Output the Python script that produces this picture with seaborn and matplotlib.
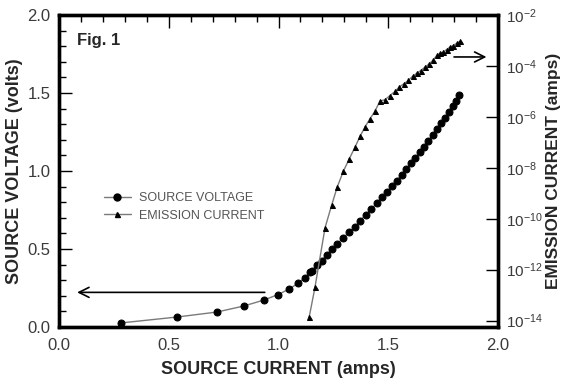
import numpy as np
import pandas as pd
import matplotlib
matplotlib.use("Agg")
import matplotlib.pyplot as plt
import seaborn as sns
from matplotlib.ticker import MultipleLocator, FixedLocator, FuncFormatter
from matplotlib.lines import Line2D

# ---------------- data ----------------
voltage_current = [0.282, 0.538, 0.720, 0.843, 0.934, 0.998, 1.050, 1.090, 1.121, 1.143,
                   1.153, 1.174, 1.196, 1.219, 1.242, 1.268, 1.295, 1.323, 1.349, 1.371,
                   1.397, 1.421, 1.447, 1.470, 1.493, 1.516, 1.538, 1.561, 1.581, 1.602,
                   1.622, 1.645, 1.663, 1.682, 1.702, 1.721, 1.740, 1.759, 1.777, 1.794,
                   1.809, 1.822]
source_voltage = [0.026, 0.064, 0.096, 0.135, 0.173, 0.208, 0.244, 0.282, 0.316, 0.351,
                  0.362, 0.397, 0.426, 0.462, 0.498, 0.534, 0.572, 0.609, 0.643, 0.681,
                  0.718, 0.754, 0.793, 0.831, 0.867, 0.902, 0.939, 0.974, 1.011, 1.049,
                  1.081, 1.124, 1.156, 1.192, 1.231, 1.267, 1.306, 1.342, 1.376, 1.417,
                  1.451, 1.487]

emission_source_current = [1.140, 1.166, 1.212, 1.242, 1.268, 1.295, 1.323, 1.349, 1.371, 1.394,
                           1.417, 1.440, 1.462, 1.485, 1.508, 1.531, 1.550, 1.572, 1.591, 1.611,
                           1.630, 1.648, 1.667, 1.686, 1.705, 1.721, 1.736, 1.751, 1.766, 1.781,
                           1.796, 1.812, 1.827]
emission_current = [1.4e-14, 2.0e-13, 4.4e-11, 3.4e-10, 1.8e-9, 7.2e-9, 2.3e-8, 6.6e-8, 1.7e-7, 4.0e-7,
                    8.5e-7, 1.7e-6, 4.2e-6, 4.7e-6, 6.9e-6, 1.0e-5, 1.5e-5, 2.0e-5, 2.7e-5, 3.9e-5,
                    5.2e-5, 6.6e-5, 8.9e-5, 1.2e-4, 1.7e-4, 2.6e-4, 3.2e-4, 3.5e-4, 4.4e-4, 5.5e-4,
                    6.3e-4, 7.8e-4, 9.3e-4]

x_ticks = [0.0, 0.5, 1.0, 1.5, 2.0]
left_ticks = [0.0, 0.5, 1.0, 1.5, 2.0]
right_tick_exponents = [-2, -4, -6, -8, -10, -12, -14]

series_names = ["SOURCE VOLTAGE", "EMISSION CURRENT"]

# ---------------- styling ----------------
sns.set_style("white")
plt.rcParams["font.family"] = ["Liberation Sans", "DejaVu Sans"]
plt.rcParams["mathtext.fontset"] = "custom"
plt.rcParams["mathtext.rm"] = "Liberation Sans"
plt.rcParams["mathtext.it"] = "Liberation Sans"
plt.rcParams["mathtext.bf"] = "Liberation Sans:bold"

fig = plt.figure(figsize=(5.65, 3.83), dpi=100)
ax = fig.add_axes([59 / 565, 1 - 327 / 383, (498 - 59) / 565, (327 - 15) / 383])
ax2 = ax.twinx()

df_v = pd.DataFrame({"I": voltage_current, "V": source_voltage})
df_e = pd.DataFrame({"I": emission_source_current, "E": emission_current})

line_col = "#7a7a7a"
dot_ms = 5.0
tri_ms = 3.6
sns.lineplot(data=df_v, x="I", y="V", ax=ax, color=line_col, linewidth=1.0,
             marker="o", markersize=dot_ms, markerfacecolor="black", markeredgecolor="black",
             sort=False, estimator=None, legend=False)
sns.lineplot(data=df_e, x="I", y="E", ax=ax2, color=line_col, linewidth=1.0,
             marker="^", markersize=tri_ms, markerfacecolor="black", markeredgecolor="black",
             sort=False, estimator=None, legend=False)

# axes limits & scales
ax.set_xlim(0, 2.0)
ax.set_ylim(0, 2.0)
ax2.set_yscale("log")
ax2.set_ylim(10 ** -14.25, 1e-2)

tick_col = "#3a3a3a"
ax.xaxis.set_major_locator(FixedLocator(x_ticks))
ax.xaxis.set_minor_locator(MultipleLocator(0.1))
ax.yaxis.set_major_locator(FixedLocator(left_ticks))
ax.yaxis.set_minor_locator(MultipleLocator(0.1))
ax.xaxis.set_major_formatter(FuncFormatter(lambda v, p: f"{v:.1f}"))
ax.yaxis.set_major_formatter(FuncFormatter(lambda v, p: f"{v:.1f}"))

ax.tick_params(axis="both", which="major", direction="in", length=9, width=1.0,
               labelsize=12, colors="black", labelcolor=tick_col, top=True, right=False)
ax.tick_params(axis="both", which="minor", direction="in", length=5, width=1.0,
               colors="black", top=True, right=False)
ax.tick_params(axis="x", which="major", pad=8)
ax.tick_params(axis="y", which="major", pad=6)

ax2.yaxis.set_major_locator(FixedLocator([10.0 ** e for e in right_tick_exponents]))
ax2.yaxis.set_minor_locator(FixedLocator([]))
ax2.yaxis.set_major_formatter(FuncFormatter(lambda v, p: r"$\mathregular{10^{%d}}$" % round(np.log10(v))))
ax2.tick_params(axis="y", which="major", direction="in", length=9, width=1.0,
                labelsize=11, colors="black", labelcolor=tick_col, pad=6)

for a in (ax, ax2):
    for s in a.spines.values():
        s.set_linewidth(2.4)
        s.set_color("black")

ax.set_xlabel("SOURCE CURRENT (amps)", fontsize=13, fontweight="bold", labelpad=6)
ax.set_ylabel("SOURCE VOLTAGE (volts)", fontsize=13, fontweight="bold", labelpad=3)
ax2.set_ylabel("EMISSION CURRENT (amps)", fontsize=12.5, fontweight="bold", labelpad=2)

# annotation
ax.text(0.04, 0.918, "Fig. 1", transform=ax.transAxes, fontsize=12, fontweight="bold",
        ha="left", va="center")

# arrows
ax.annotate("", xy=(0.07, 0.222), xytext=(0.95, 0.222),
            arrowprops=dict(arrowstyle="->", color="black", lw=1.2, mutation_scale=18))
ax.annotate("", xy=(1.96, 1.731), xytext=(1.787, 1.731),
            arrowprops=dict(arrowstyle="->", color="black", lw=1.2, mutation_scale=18))

# legend
handles = [
    Line2D([], [], color=line_col, lw=1.0, marker="o", markersize=dot_ms,
           markerfacecolor="black", markeredgecolor="black"),
    Line2D([], [], color=line_col, lw=1.0, marker="^", markersize=tri_ms,
           markerfacecolor="black", markeredgecolor="black"),
]
leg = ax.legend(handles, series_names, loc="upper left", bbox_to_anchor=(0.09, 0.448),
                frameon=False, fontsize=9, handlelength=2.2, handletextpad=0.6,
                labelspacing=0.45, borderaxespad=0)
for t in leg.get_texts():
    t.set_color("#555555")

fig.savefig("out.png", dpi=100)
